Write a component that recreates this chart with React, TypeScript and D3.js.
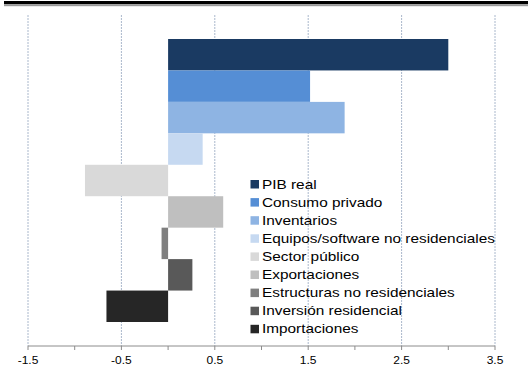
import React from "react";
import * as d3 from "d3";

const categories = [
  "PIB real",
  "Consumo privado",
  "Inventarios",
  "Equipos/software no residenciales",
  "Sector público",
  "Exportaciones",
  "Estructuras no residenciales",
  "Inversión residencial",
  "Importaciones",
];
const values = [3.0, 1.52, 1.89, 0.37, -0.89, 0.59, -0.07, 0.26, -0.66];
const colors = [
  "#1a3a62",
  "#558ed5",
  "#8eb4e3",
  "#c6d9f1",
  "#d9d9d9",
  "#bfbfbf",
  "#7f7f7f",
  "#595959",
  "#262626",
];
const gridValues = [-1.5, -0.5, 0.5, 1.5, 2.5, 3.5];
const tickValues = [-1.5, -1, -0.5, 0, 0.5, 1, 1.5, 2, 2.5, 3, 3.5];
const tickLabels = ["-1.5", "-0.5", "0.5", "1.5", "2.5", "3.5"];

export default function App() {
  const W = 528;
  const H = 369;
  const x = d3.scaleLinear().domain([-1.5, 3.5]).range([28, 495]);
  const y = d3.scaleBand<string>().domain(categories).range([39, 322]).padding(0);
  const axisY = 346;
  const font = "'Liberation Sans', Arial, sans-serif";
  return (
    <svg
      width={W}
      height={H}
      style={{ position: "absolute", left: 0, top: 0, background: "#fff" }}
    >
      <rect x={4} y={1} width={W - 4} height={3.2} fill="#000" />
      <rect x={4} y={4.2} width={W - 4} height={2} fill="#999" />
      {gridValues.map((g) => (
        <line
          key={g}
          x1={x(g)}
          x2={x(g)}
          y1={15}
          y2={axisY}
          stroke="#aab8cc"
          strokeWidth={1}
          strokeDasharray="2,1"
        />
      ))}
      {categories.map((c, i) => {
        const v = values[i];
        const x0 = x(Math.min(0, v));
        const x1 = x(Math.max(0, v));
        return (
          <rect
            key={c}
            x={x0}
            y={y(c)}
            width={x1 - x0}
            height={y.bandwidth()}
            fill={colors[i]}
          />
        );
      })}
      <line x1={x(-1.5)} x2={x(3.5)} y1={axisY} y2={axisY} stroke="#8c8c8c" strokeWidth={1} />
      {tickValues.map((t) => (
        <line
          key={t}
          x1={x(t)}
          x2={x(t)}
          y1={axisY}
          y2={axisY + 4}
          stroke="#8c8c8c"
          strokeWidth={1}
        />
      ))}
      {gridValues.map((t, i) => (
        <text
          key={t}
          transform={`translate(${x(t)},363.5) scale(1.2,1)`}
          textAnchor="middle"
          fontFamily={font}
          fontSize={10}
          fill="#000"
        >
          {tickLabels[i]}
        </text>
      ))}
      {categories.map((c, i) => {
        const cy = 184 + i * 18.1;
        return (
          <g key={c}>
            <rect x={250.5} y={cy - 4} width={8.5} height={8.5} fill={colors[i]} />
            <text
              transform={`translate(262,${cy + 4.5}) scale(1.2,1)`}
              fontFamily={font}
              fontSize={12.8}
              fill="#000"
            >
              {c}
            </text>
          </g>
        );
      })}
    </svg>
  );
}
